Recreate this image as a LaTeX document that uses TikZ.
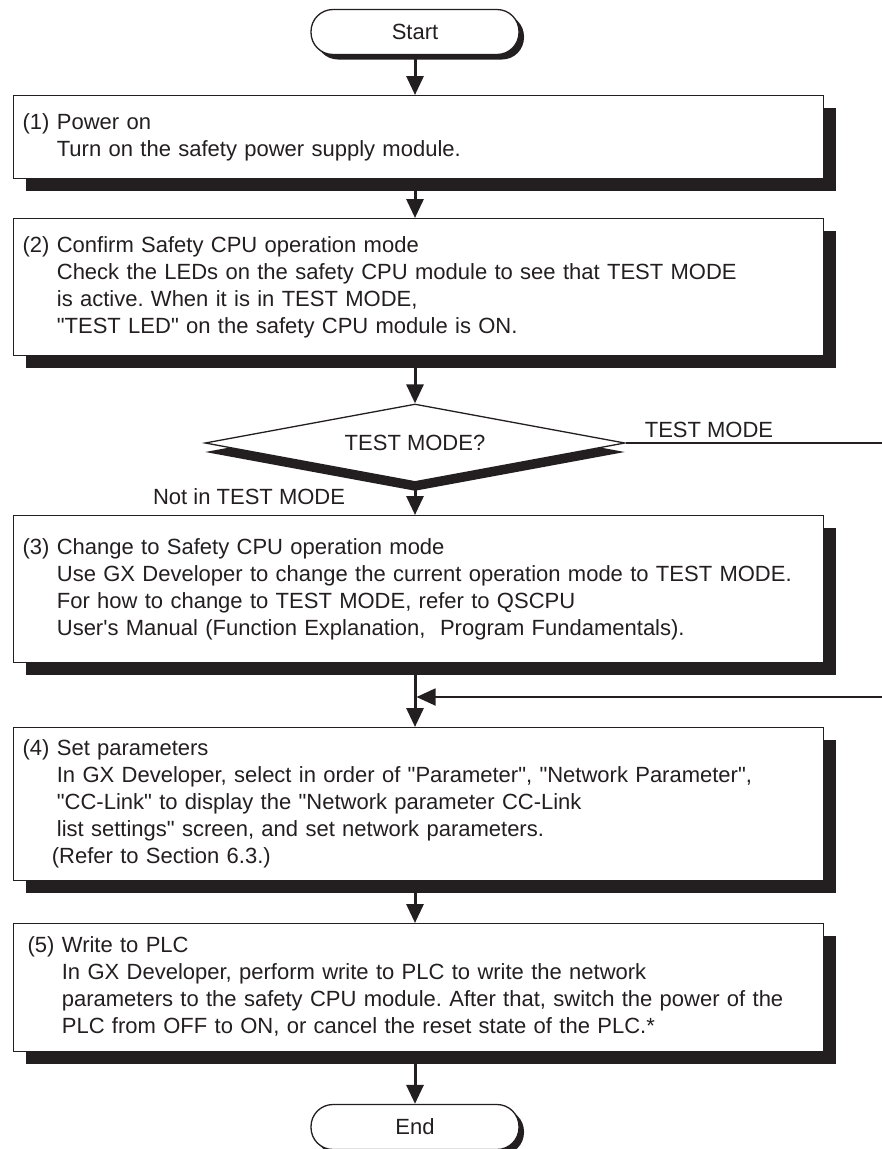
\documentclass[tikz,border=0pt]{standalone}
\usepackage{fontspec}
\setmainfont{Liberation Sans}[Ligatures=TeXOff]
\usetikzlibrary{arrows.meta,shapes.geometric,shadows}
\definecolor{ink}{HTML}{231F20}
\frenchspacing
\newcommand{\stepitem}[2]{%
  \begin{tabular}[t]{@{}l@{\space}l@{}}#1&\begin{tabular}[t]{@{}l@{}}#2\end{tabular}\end{tabular}}
\tikzset{
  stepbox/.style={draw=ink,fill=white,anchor=north west,minimum width=810pt,
    text width=792pt,inner xsep=9pt,inner ysep=0pt,align=left,
    drop shadow={shadow xshift=12pt,shadow yshift=-12pt,fill=ink,opacity=1}},
  terminal/.style={draw=ink,fill=white,rounded corners=22pt,minimum width=208pt,
    minimum height=45pt,inner sep=0pt,
    drop shadow={shadow xshift=5pt,shadow yshift=-5pt,fill=ink,opacity=1}},
  decision/.style={diamond,draw=ink,fill=white,aspect=5.4,minimum width=420pt,
    minimum height=78pt,inner sep=0pt,
    drop shadow={shadow xshift=0pt,shadow yshift=-9pt,fill=ink,opacity=1}},
  stem/.style={line width=3pt}
}
\begin{document}
\begin{tikzpicture}[x=1pt,y=-1pt,>={Triangle[length=19pt,width=17pt]},line width=1.3pt,
  color=ink,font=\fontsize{22}{27}\selectfont]
  \useasboundingbox (0,0) rectangle (882,1149);

  % 开始
  \node[terminal] (start) at (415,32) {Start};

  % 步骤 (1) (2)
  \node[stepbox,minimum height=83pt] (b1) at (13,95)
    {\stepitem{(1)}{Power on\\Turn on the safety power supply module.}};
  \node[stepbox,minimum height=137pt] (b2) at (13,218)
    {\stepitem{(2)}{Confirm Safety CPU operation mode\\
      Check the LEDs on the safety CPU module to see that TEST MODE\\
      is active. When it is in TEST MODE,\\
      "TEST LED" on the safety CPU module is ON.}};

  % 判断
  \node[decision] (dia) at (415,443) {TEST MODE?};
  \coordinate (tm1) at (882,443);
  \node (yes) at (709,430) {TEST MODE};
  \node[anchor=east] (no) at (349,497) {Not in TEST MODE};

  % 步骤 (3) (4) (5)
  \node[stepbox,minimum height=147pt] (b3) at (13,515)
    {\stepitem{(3)}{Change to Safety CPU operation mode\\
      Use GX Developer to change the current operation mode to TEST MODE.\\
      For how to change to TEST MODE, refer to QSCPU\\
      User's Manual (Function Explanation,~ Program Fundamentals).}};
  \coordinate (mj) at (415,697);
  \coordinate (tm2) at (882,697);
  \node[stepbox,minimum height=153pt] (b4) at (13,727)
    {\stepitem{(4)}{Set parameters\\
      In GX Developer, select in order of "Parameter", "Network Parameter",\\
      "CC-Link" to display the "Network parameter CC-Link\\
      list settings" screen, and set network parameters.\\
      \hspace*{-5pt}(Refer to Section 6.3.)}};
  \node[stepbox,minimum height=128pt] (b5) at (13,923)
    {\stepitem{\hspace*{5pt}(5)}{Write to PLC\\
      In GX Developer, perform write to PLC to write the network\\
      parameters to the safety CPU module. After that, switch the power of the\\
      PLC from OFF to ON, or cancel the reset state of the PLC.*}};

  % 结束
  \node[terminal] (end) at (415,1127) {End};

  % 连线
  \draw[->,stem] (start) -- (start |- b1.north);
  \draw[->,stem] (b1.south -| start) -- (start |- b2.north);
  \draw[->,stem] (b2.south -| dia) -- (dia.north);
  \draw (dia.east) -- (tm1);
  \draw[->,stem] (dia.south) -- (dia |- b3.north);
  \draw[->,stem] (b3.south -| mj) -- (mj |- b4.north);
  \draw[->,line width=1.8pt,shorten >=1.5pt] (tm2) -- (mj);
  \draw[->,stem] (b4.south -| mj) -- (mj |- b5.north);
  \draw[->,stem] (b5.south -| mj) -- (end);
\end{tikzpicture}
\end{document}
